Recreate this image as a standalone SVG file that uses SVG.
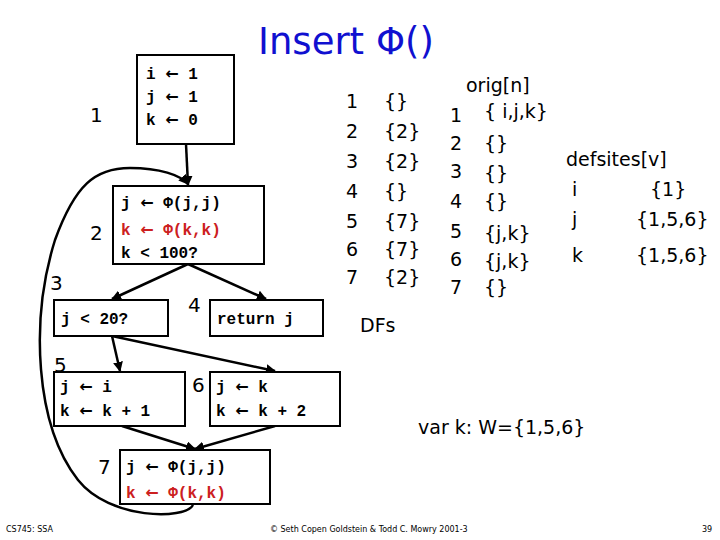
<svg xmlns="http://www.w3.org/2000/svg" width="720" height="540" viewBox="0 0 720 540">
<style>
.b{fill:#fff;stroke:#000;stroke-width:2}
.m{font-family:"Liberation Mono",monospace;font-weight:bold;font-size:16px;fill:#000}
.m tspan{font-family:"DejaVu Sans",sans-serif;font-weight:bold}
.r{fill:#cc2020}
.n{font-family:"DejaVu Sans","Liberation Sans",sans-serif;font-size:20px;fill:#000}
.s{font-family:"DejaVu Sans","Liberation Sans",sans-serif;font-size:19px;fill:#000}
.e{stroke:#000;stroke-width:2.5;fill:none;marker-end:url(#a)}
.f{font-family:"DejaVu Sans",sans-serif;font-size:8px;fill:#000}
</style>
<defs><marker id="a" viewBox="0 0 10 10" refX="9" refY="5" markerWidth="4" markerHeight="4" orient="auto"><path d="M0,0L10,5L0,10z" fill="#000"/></marker></defs>
<rect width="720" height="540" fill="#fff"/>
<text x="258" y="54" font-family="DejaVu Sans,sans-serif" font-size="37" fill="#1010d0">Insert Φ()</text>
<g id="connectors">
<path class="e" d="M186,144L188,185"/>
<path class="e" d="M188,264L112,299"/>
<path class="e" d="M188,264L266,299"/>
<path class="e" d="M112,336L120,371"/>
<path class="e" d="M112,336L275,371"/>
<path class="e" d="M122,426L195,449"/>
<path class="e" d="M275,426L195,449"/>
<path class="e" d="M193,505C185,520 110,520 78,480C35,425 30,320 55,240C75,185 95,168 130,168C160,168 180,175 188,184"/>
</g>
<g id="n1"><rect class="b" x="137" y="55" width="97" height="89"/><text class="m" x="146" y="79">i <tspan>←</tspan> 1</text><text class="m" x="146" y="102">j <tspan>←</tspan> 1</text><text class="m" x="146" y="125">k <tspan>←</tspan> 0</text><text class="n" x="90" y="122">1</text></g>
<g id="n2"><rect class="b" x="113" y="186" width="151" height="78"/><text class="m" x="121" y="208">j <tspan>←</tspan> Φ(j,j)</text><text class="m r" x="121" y="235">k <tspan>←</tspan> Φ(k,k)</text><text class="m" x="121" y="258">k &lt; 100?</text><text class="n" x="90" y="240">2</text></g>
<g id="n3"><rect class="b" x="54" y="300" width="114" height="36"/><text class="m" x="61" y="324">j &lt; 20?</text><text class="n" x="50" y="290">3</text></g>
<g id="n4"><rect class="b" x="210" y="300" width="113" height="36"/><text class="m" x="217" y="324">return j</text><text class="n" x="188" y="312">4</text></g>
<g id="n5"><rect class="b" x="54" y="372" width="131" height="54"/><text class="m" x="60" y="392">j <tspan>←</tspan> i</text><text class="m" x="60" y="416">k <tspan>←</tspan> k + 1</text><text class="n" x="54" y="372">5</text></g>
<g id="n6"><rect class="b" x="210" y="372" width="130" height="54"/><text class="m" x="216" y="392">j <tspan>←</tspan> k</text><text class="m" x="216" y="416">k <tspan>←</tspan> k + 2</text><text class="n" x="192" y="392">6</text></g>
<g id="n7"><rect class="b" x="120" y="450" width="150" height="54"/><text class="m" x="126" y="472">j <tspan>←</tspan> Φ(j,j)</text><text class="m r" x="126" y="498">k <tspan>←</tspan> Φ(k,k)</text><text class="n" x="98" y="474">7</text></g>
<g id="dfs"><text class="s" x="346" y="108">1</text><text class="s" x="346" y="138">2</text><text class="s" x="346" y="168">3</text><text class="s" x="346" y="198">4</text><text class="s" x="346" y="228">5</text><text class="s" x="346" y="256">6</text><text class="s" x="346" y="284">7</text>
<text class="s" x="384" y="108">{}</text><text class="s" x="384" y="138">{2}</text><text class="s" x="384" y="168">{2}</text><text class="s" x="384" y="198">{}</text><text class="s" x="384" y="228">{7}</text><text class="s" x="384" y="256">{7}</text><text class="s" x="384" y="284">{2}</text>
<text class="s" x="360" y="332">DFs</text></g>
<g id="orig"><text class="s" x="466" y="92">orig[n]</text>
<text class="s" x="450" y="122">1</text><text class="s" x="450" y="150">2</text><text class="s" x="450" y="178">3</text><text class="s" x="450" y="208">4</text><text class="s" x="450" y="238">5</text><text class="s" x="450" y="266">6</text><text class="s" x="450" y="294">7</text>
<text class="s" x="484" y="118">{ i,j,k}</text><text class="s" x="484" y="150">{}</text><text class="s" x="484" y="180">{}</text><text class="s" x="484" y="208">{}</text><text class="s" x="484" y="240">{j,k}</text><text class="s" x="484" y="268">{j,k}</text><text class="s" x="484" y="294">{}</text></g>
<g id="defsites"><text class="s" x="566" y="166">defsites[v]</text>
<text class="s" x="572" y="196">i</text><text class="s" x="650" y="196">{1}</text>
<text class="s" x="572" y="226">j</text><text class="s" x="636" y="226">{1,5,6}</text>
<text class="s" x="572" y="262">k</text><text class="s" x="636" y="262">{1,5,6}</text></g>
<text class="s" x="418" y="434">var k:  W={1,5,6}</text>
<text class="f" x="6" y="532">CS745: SSA</text>
<text class="f" x="270" y="532">© Seth Copen Goldstein &amp; Todd C. Mowry 2001-3</text>
<text class="f" x="702" y="532">39</text>
</svg>
